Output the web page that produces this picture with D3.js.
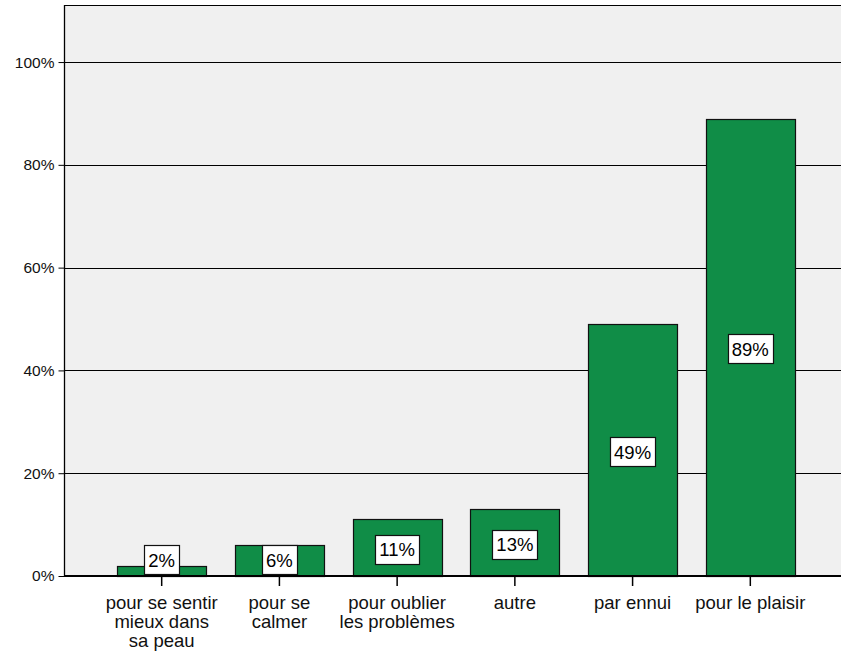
<!DOCTYPE html>
<html><head><meta charset="utf-8">
<script src="https://cdn.jsdelivr.net/npm/d3@7"></script>
<style>body{margin:0;background:#fff}svg{display:block}text{font-family:"Liberation Sans",Arial,sans-serif}</style>
</head><body>
<svg id="c" width="841" height="653"></svg>
<script>
const categories = ["pour se sentir|mieux dans|sa peau","pour se|calmer","pour oublier|les problèmes","autre","par ennui","pour le plaisir"];
const values = [2, 6, 11, 13, 49, 89];
const yTicks = [0, 20, 40, 60, 80, 100];

const svg = d3.select("#c");
const L = 64, R = 841, T = 5, B = 576;
const x = d3.scaleBand().domain(categories).range([103, 809]).paddingInner(0.243).paddingOuter(0.12);
const y = d3.scaleLinear().domain([0, 111.1]).range([B, T]);

svg.append("rect").attr("x", L).attr("y", T).attr("width", R - L).attr("height", B - T).attr("fill", "#f0f0f0");
svg.append("line").attr("x1", L).attr("x2", R).attr("y1", T + 0.5).attr("y2", T + 0.5).attr("stroke", "#000");
svg.append("g").selectAll("line").data(yTicks.filter(d => d > 0)).join("line")
  .attr("x1", L).attr("x2", R).attr("y1", d => Math.round(y(d)) + 0.5).attr("y2", d => Math.round(y(d)) + 0.5)
  .attr("stroke", "#000").attr("stroke-width", 1);

svg.append("g").selectAll("rect").data(values).join("rect")
  .attr("x", (d, i) => Math.round(x(categories[i])) + 0.5)
  .attr("y", d => Math.round(y(d)) + 0.5)
  .attr("width", Math.round(x.bandwidth()))
  .attr("height", d => B - Math.round(y(d)))
  .attr("fill", "#108d47").attr("stroke", "#111").attr("stroke-width", 1.2);

const ya = d3.axisLeft(y).tickValues(yTicks).tickFormat(d => d + "%").tickSize(6).tickPadding(4);
const gy = svg.append("g").attr("transform", `translate(${L + 0.5},0)`).call(ya);
gy.select(".domain").remove();
gy.selectAll(".tick line").attr("stroke", "#000");
gy.selectAll(".tick text").attr("font-size", 15.5).attr("fill", "#111").attr("font-family", '"Liberation Sans",Arial,sans-serif');
svg.append("line").attr("x1", L + 0.5).attr("x2", L + 0.5).attr("y1", T).attr("y2", B).attr("stroke", "#000").attr("stroke-width", 1.3);

const xa = d3.axisBottom(x).tickSize(10).tickFormat("");
const gx = svg.append("g").attr("transform", `translate(0,${B})`).call(xa);
gx.select(".domain").remove();
gx.selectAll(".tick line").attr("stroke", "#000").attr("stroke-width", 1.5);
svg.append("line").attr("x1", L).attr("x2", R).attr("y1", B).attr("y2", B).attr("stroke", "#000").attr("stroke-width", 2);

const xl = svg.append("g");
categories.forEach(c => {
  const cx = x(c) + x.bandwidth() / 2;
  const t = xl.append("text").attr("x", cx).attr("y", 609).attr("text-anchor", "middle").attr("font-size", 18.5).attr("fill", "#111");
  c.split("|").forEach((line, k) => t.append("tspan").attr("x", cx).attr("dy", k === 0 ? 0 : 19).text(line));
});

const lg = svg.append("g");
values.forEach((v, i) => {
  const cx = x(categories[i]) + x.bandwidth() / 2;
  let cy = (y(v) + B) / 2 + 2;
  cy = Math.min(cy, 560);
  const txt = lg.append("text").attr("x", cx).attr("y", cy + 6.5).attr("text-anchor", "middle")
    .attr("font-size", 18.5).attr("fill", "#000").text(v + "%");
  const w = txt.node().getComputedTextLength() + 8;
  lg.insert("rect", "text").attr("x", Math.round(cx - w / 2) + 0.5).attr("y", Math.round(cy - 15) + 0.5)
    .attr("width", Math.round(w)).attr("height", 29).attr("fill", "#fff").attr("stroke", "#111").attr("stroke-width", 1.2);
});
</script>
</body></html>
